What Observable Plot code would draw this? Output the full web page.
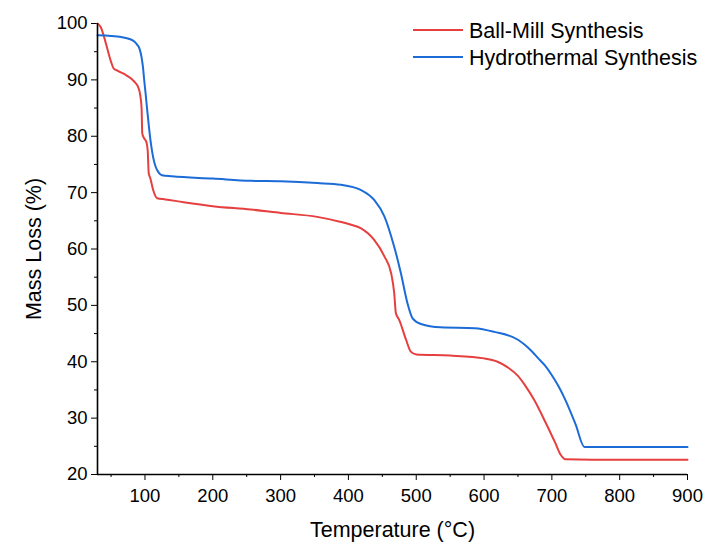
<!DOCTYPE html>
<html>
<head>
<meta charset="utf-8">
<script src="https://cdn.jsdelivr.net/npm/d3@7"></script>
<script src="https://cdn.jsdelivr.net/npm/@observablehq/plot@0.6"></script>
<style>
  html, body { margin: 0; padding: 0; background: #fff; }
  #chart { position: relative; width: 705px; height: 543px; }
  svg { font-family: "Liberation Sans", Arial, sans-serif; }
</style>
</head>
<body>
<div id="chart"></div>
<script>
const seriesNames = ["Ball-Mill Synthesis", "Hydrothermal Synthesis"];
const seriesColors = ["#e5403f", "#1c6cd8"];

const ballMillT = [30, 35, 40, 45, 50, 54, 60, 70, 80, 85, 90, 93, 95, 96, 98, 102, 104, 105.5, 108, 112, 118, 130, 157, 200, 256, 300, 354, 389, 404, 418, 438, 453, 463, 467.5, 470, 475, 485, 492, 500, 550, 600, 620, 635, 650, 660, 674, 690, 705, 713, 720, 800, 900];
const ballMillMass = [100, 99.3, 97.5, 95.3, 93.2, 92.0, 91.6, 91.0, 90.2, 89.6, 88.7, 87.3, 85.0, 80.5, 79.8, 79.0, 77.5, 73.5, 72.5, 70.5, 69.0, 68.8, 68.3, 67.6, 67.0, 66.4, 65.7, 64.8, 64.3, 63.7, 61.6, 58.7, 55.7, 52.2, 48.6, 47.4, 43.9, 41.8, 41.3, 41.1, 40.6, 40.0, 39.0, 37.5, 35.9, 33.2, 29.4, 25.6, 23.5, 22.7, 22.6, 22.6];

const hydroT = [30, 50, 65, 76, 82, 86, 88, 92, 95, 97, 99, 101, 103, 106, 109, 112, 116, 120, 125, 140, 200, 256, 300, 354, 389, 418, 438, 453, 467.5, 477.4, 487, 494.6, 507, 536, 586, 615, 650, 660, 670, 680, 690, 700, 710, 720, 735, 748, 800, 900];
const hydroMass = [97.9, 97.8, 97.6, 97.3, 97.0, 96.6, 96.3, 95.5, 94.0, 92.3, 89.8, 87.5, 85.0, 81.5, 78.5, 76.3, 74.5, 73.6, 73.1, 72.9, 72.5, 72.1, 72.0, 71.7, 71.4, 70.5, 68.7, 65.8, 60.4, 55.7, 50.4, 47.7, 46.7, 46.1, 45.95, 45.3, 43.9, 43.0, 41.9, 40.6, 39.3, 37.6, 35.6, 33.2, 28.9, 24.9, 24.9, 24.9];

const xMajorTicks = [100, 200, 300, 400, 500, 600, 700, 800, 900];
const xMinorTicks = [50, 150, 250, 350, 450, 550, 650, 750, 850];
const yMajorTicks = [20, 30, 40, 50, 60, 70, 80, 90, 100];
const yMinorTicks = [25, 35, 45, 55, 65, 75, 85, 95];

const rows = [
  ...ballMillT.map((t, i) => ({series: seriesNames[0], t, m: ballMillMass[i]})),
  ...hydroT.map((t, i) => ({series: seriesNames[1], t, m: hydroMass[i]}))
];

const plot = Plot.plot({
  width: 705,
  height: 543,
  marginLeft: 97,
  marginRight: 18,
  marginTop: 23,
  marginBottom: 69,
  style: {fontFamily: "'Liberation Sans', Arial, sans-serif", fontSize: "18.5px", color: "#000", background: "#fff"},
  x: {domain: [30, 900]},
  y: {domain: [20, 100]},
  color: {domain: seriesNames, range: seriesColors},
  marks: [
    Plot.axisX({ticks: xMajorTicks, tickSize: 6, tickPadding: 8, fontSize: 18.5,
      label: "Temperature (°C)", labelAnchor: "center", labelOffset: 62, labelArrow: "none"}),
    Plot.axisX({ticks: xMinorTicks, tickSize: 3, text: null, label: null}),
    Plot.axisY({ticks: yMajorTicks, tickSize: 6, tickPadding: 4, fontSize: 18.5,
      label: "Mass Loss (%)", labelAnchor: "center", labelOffset: 72, labelArrow: "none"}),
    Plot.axisY({ticks: yMinorTicks, tickSize: 3, text: null, label: null}),
    Plot.line(rows, {x: "t", y: "m", z: "series", stroke: "series", strokeWidth: 2, curve: "monotone-x"}),
    Plot.ruleX([30], {stroke: "#000", strokeWidth: 1.6}),
    Plot.ruleY([20], {stroke: "#000", strokeWidth: 1.6})
  ]
});

// enlarge axis label text
d3.select(plot).selectAll("g[aria-label='x-axis label'] text, g[aria-label='y-axis label'] text")
  .style("font-size", "21.5px");

// legend
const svg = d3.select(plot);
const leg = svg.append("g").attr("font-size", 21.5).attr("text-anchor", "start")
  .attr("font-family", "'Liberation Sans', Arial, sans-serif");
seriesNames.forEach((name, i) => {
  const y = 30 + i * 27;
  leg.append("line").attr("x1", 413).attr("x2", 463).attr("y1", y).attr("y2", y)
    .attr("stroke", seriesColors[i]).attr("stroke-width", 2);
  leg.append("text").attr("x", 469).attr("y", y).attr("dy", "0.35em")
    .attr("text-anchor", "start").attr("fill", "#000").text(name);
});

document.getElementById("chart").appendChild(plot);
</script>
</body>
</html>
